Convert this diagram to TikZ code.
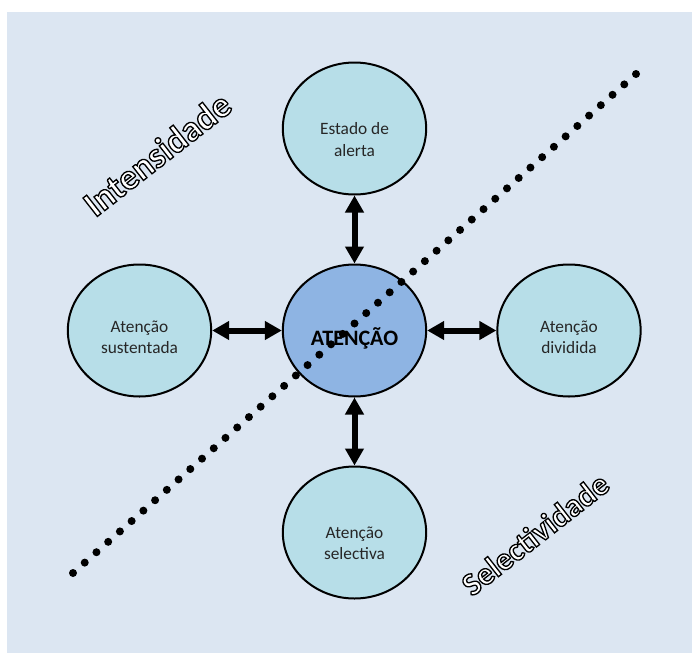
\documentclass[tikz,border=0pt]{standalone}
\usepackage{fontspec}
\setmainfont{Carlito}
\usetikzlibrary{shapes.geometric,arrows.meta,calc}
\definecolor{bgblue}{HTML}{DCE6F2}
\definecolor{outerfill}{HTML}{B7DEE8}
\definecolor{innerfill}{HTML}{8EB4E3}
\definecolor{txt}{HTML}{262626}
\newcommand{\hollowtext}[1]{\special{pdf:literal direct 2 Tr 1.0 w 0 G}#1\special{pdf:literal direct 0 Tr}}
\begin{document}
\begin{tikzpicture}[x=0.75pt,y=-0.75pt,
  bubble/.style={ellipse, draw=black, line width=1.5pt, fill=outerfill,
    minimum width=107.5pt, minimum height=99pt, inner sep=0pt},
  core/.style={bubble, fill=innerfill},
  lbl/.style={align=center, inner sep=0pt, text=txt, font=\fontsize{13}{16}\selectfont},
  corelbl/.style={inner sep=0pt, text=black, font=\fontsize{16.5}{19}\selectfont\bfseries},
  link/.style={line width=4.5pt, {Triangle[length=12.75pt,width=13.5pt]}-{Triangle[length=12.75pt,width=13.5pt]}},
  hollow/.style={rotate=38, inner sep=0pt, text=white}
]
\useasboundingbox (0,0) rectangle (692,653);
\fill[white] (0,0) rectangle (692,653);
\fill[bgblue] (7,12) rectangle (692,653);

\node[core]   (c) at (354.5,330.5) {};
\node[bubble] (t) at (354.5,128.5) {};
\node[bubble] (l) at (139.5,330.5) {};
\node[bubble] (r) at (569,330.5) {};
\node[bubble] (b) at (354.5,532.5) {};

\node[corelbl] (ct) at ($(c)+(0,8)$) {ATENÇÃO};
\node[lbl] (tt) at ($(t)+(0,11)$) {Estado de\\alerta};
\node[lbl] (lt) at ($(l)+(0,7)$) {Atenção\\sustentada};
\node[lbl] (rt) at ($(r)+(0,7)$) {Atenção\\dividida};
\node[lbl] (bt) at ($(b)+(0,11)$) {Atenção\\selectiva};

\draw[link] (t.south) -- (c.north);
\draw[link] (c.south) -- (b.north);
\draw[link] (l.east) -- (c.west);
\draw[link] (c.east) -- (r.west);

\node[hollow] (i1) at (157,154) {\fontsize{27}{30}\selectfont\bfseries\hollowtext{Intensidade}};
\node[hollow] (s1) at (535,534) {\fontsize{24}{28}\selectfont\bfseries\hollowtext{Selectividade}};

\coordinate (d1) at (73,573);
\coordinate (d2) at (636,74);
\foreach \i in {0,...,48}
  \fill[black] ($(d1)!\i/48!(d2)$) circle (3pt);
\end{tikzpicture}
\end{document}
